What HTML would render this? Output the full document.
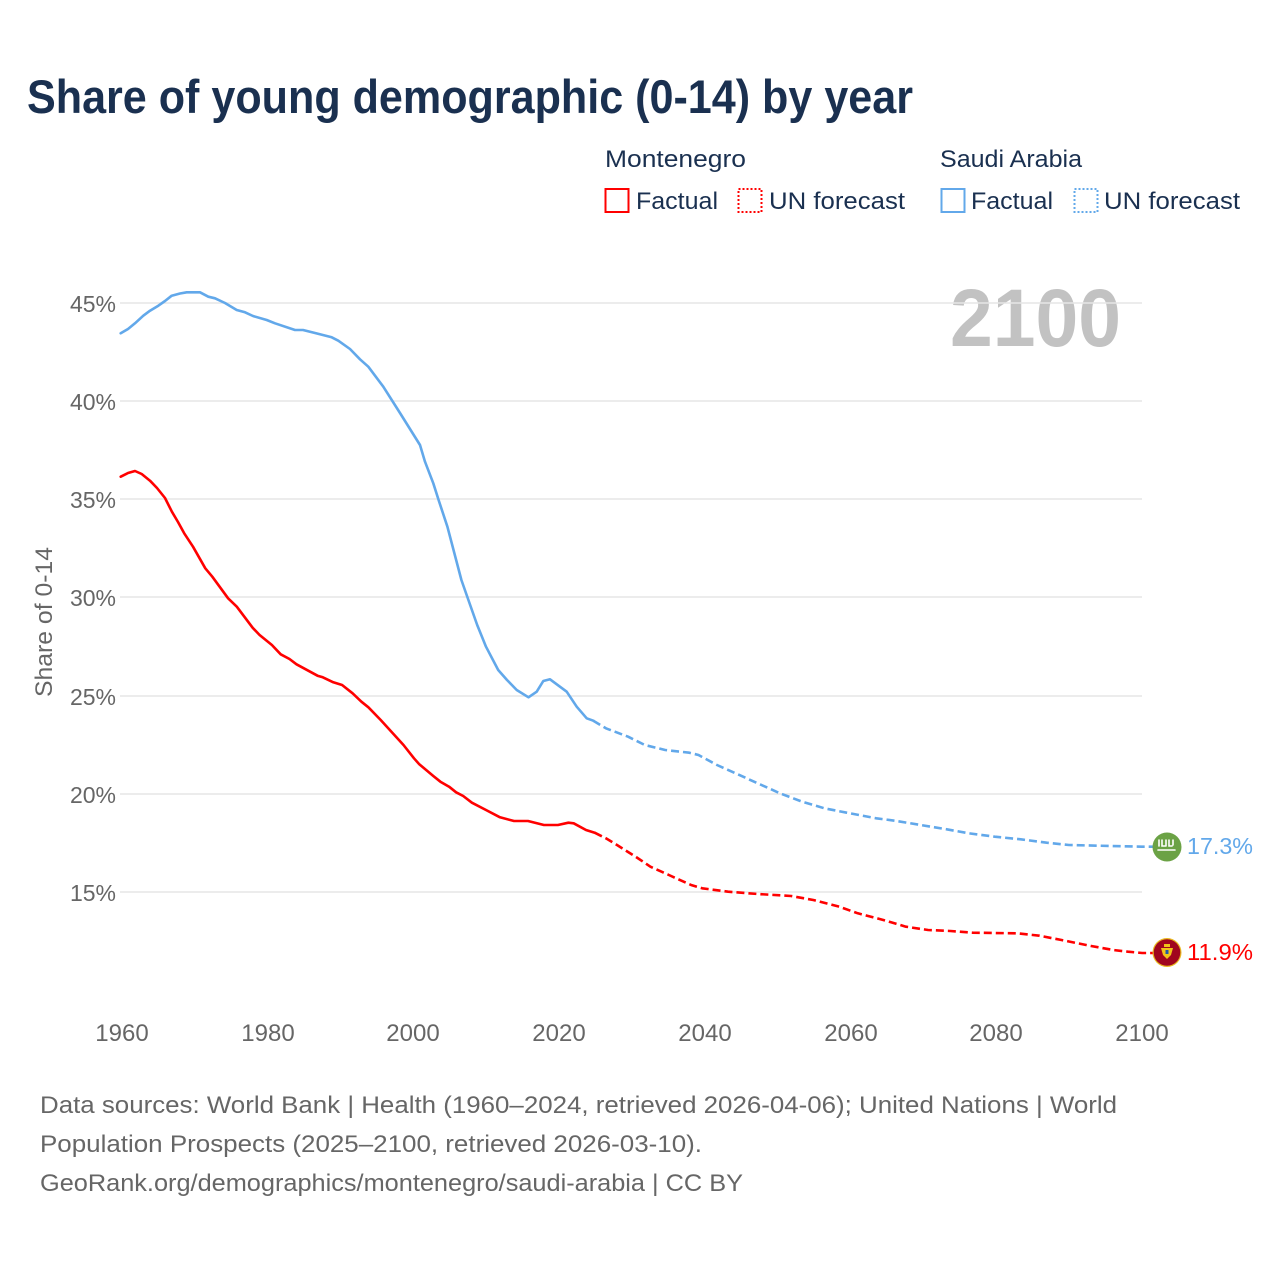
<!DOCTYPE html>
<html>
<head>
<meta charset="utf-8">
<style>
  html, body { margin: 0; padding: 0; background: #ffffff; }
  svg { display: block; }
  text { font-family: "Liberation Sans", "DejaVu Sans", sans-serif; }
</style>
</head>
<body>
<svg width="1280" height="1280" viewBox="0 0 1280 1280" xmlns="http://www.w3.org/2000/svg">
  <rect x="0" y="0" width="1280" height="1280" fill="#ffffff"/>

  <!-- Title -->
  <text x="27" y="113" font-size="47" font-weight="bold" fill="#1a3050" textLength="886" lengthAdjust="spacingAndGlyphs">Share of young demographic (0-14) by year</text>

  <!-- Legend -->
  <text x="605" y="167" font-size="24" fill="#1a3050" textLength="141" lengthAdjust="spacingAndGlyphs">Montenegro</text>
  <text x="940" y="167" font-size="24" fill="#1a3050" textLength="142" lengthAdjust="spacingAndGlyphs">Saudi Arabia</text>

  <rect x="605.5" y="189" width="23" height="23" fill="none" stroke="#ff0000" stroke-width="2"/>
  <text x="636" y="209" font-size="24" fill="#1a3050" textLength="82" lengthAdjust="spacingAndGlyphs">Factual</text>
  <rect x="738.5" y="189" width="23" height="23" fill="none" stroke="#ff0000" stroke-width="2" stroke-dasharray="2,2"/>
  <text x="769" y="209" font-size="24" fill="#1a3050" textLength="136" lengthAdjust="spacingAndGlyphs">UN forecast</text>

  <rect x="941.5" y="189" width="23" height="23" fill="none" stroke="#62a8ea" stroke-width="2"/>
  <text x="971" y="209" font-size="24" fill="#1a3050" textLength="82" lengthAdjust="spacingAndGlyphs">Factual</text>
  <rect x="1074.5" y="189" width="23" height="23" fill="none" stroke="#62a8ea" stroke-width="2" stroke-dasharray="2,2"/>
  <text x="1104" y="209" font-size="24" fill="#1a3050" textLength="136" lengthAdjust="spacingAndGlyphs">UN forecast</text>

  <!-- Big year -->
  <text x="950" y="346" font-size="82" font-weight="bold" fill="#c2c2c2" textLength="171" lengthAdjust="spacingAndGlyphs">2100</text>

  <!-- Gridlines -->
  <g stroke="#e6e6e6" stroke-width="1.5">
    <line x1="120" y1="303" x2="1142" y2="303"/>
    <line x1="120" y1="401" x2="1142" y2="401"/>
    <line x1="120" y1="499" x2="1142" y2="499"/>
    <line x1="120" y1="597" x2="1142" y2="597"/>
    <line x1="120" y1="696" x2="1142" y2="696"/>
    <line x1="120" y1="794" x2="1142" y2="794"/>
    <line x1="120" y1="892" x2="1142" y2="892"/>
  </g>

  <!-- Y tick labels -->
  <g font-size="23" fill="#666666" text-anchor="end">
    <text x="116" y="312">45%</text>
    <text x="116" y="410">40%</text>
    <text x="116" y="508">35%</text>
    <text x="116" y="606">30%</text>
    <text x="116" y="705">25%</text>
    <text x="116" y="803">20%</text>
    <text x="116" y="901">15%</text>
  </g>

  <!-- Y axis title -->
  <text transform="translate(52,622) rotate(-90)" text-anchor="middle" font-size="24" fill="#666666" textLength="150" lengthAdjust="spacingAndGlyphs">Share of 0-14</text>

  <!-- X tick labels -->
  <g font-size="24" fill="#666666" text-anchor="middle">
    <text x="122" y="1041">1960</text>
    <text x="268" y="1041">1980</text>
    <text x="413" y="1041">2000</text>
    <text x="559" y="1041">2020</text>
    <text x="705" y="1041">2040</text>
    <text x="851" y="1041">2060</text>
    <text x="996" y="1041">2080</text>
    <text x="1142" y="1041">2100</text>
  </g>

  <!-- Saudi Arabia factual -->
  <polyline fill="none" stroke="#62a8ea" stroke-width="2.6" stroke-linejoin="round" stroke-linecap="round"
    points="120.7,333.3 128,329 135,323.3 143.3,315.7 150,310.7 158.3,305.7 165,301 171.7,295.7 180,293.5 186.7,292.3 200,292.3 208.3,296.7 215,298.3 225,303 236.7,310 245,312.3 253,316 266.7,320 275,323.3 295,330 303,330 317,333.5 331.7,337.3 338.3,340.7 350,349 360,359.3 368.3,366.7 383.3,386.7 400,413 420,445 425,461.7 433.3,483.3 438.6,500 447.4,526.7 461.4,580 468.4,600 477.2,625 486,646.7 498.2,670 507,680 516.7,690 528.5,697.3 536.7,691.7 543.3,681 550,679.3 566.7,691.7 576.7,706.7 586.7,718.3 593.3,720.7"/>
  <!-- Saudi Arabia forecast -->
  <polyline fill="none" stroke="#62a8ea" stroke-width="2.6" stroke-linejoin="round" stroke-dasharray="8,4"
    points="593.3,720.7 605.9,728.3 628.1,736.7 644.8,745 665.2,750 689.3,752.7 698.5,755 717,765 735.6,773.3 761.5,785 780,793.3 802.2,801.7 824.4,808.3 846.7,812.7 876.3,818.3 894.8,820.7 920.7,825 946.7,829.3 968.9,833.3 994.8,836.7 1020.7,839.3 1046.7,842.7 1068.9,845 1098.5,845.7 1142.2,846.7 1153,846.7"/>

  <!-- Montenegro factual -->
  <polyline fill="none" stroke="#ff0000" stroke-width="2.6" stroke-linejoin="round" stroke-linecap="round"
    points="120.7,476.7 128,473 135,471 141.7,474 150,480.7 157,488 165,498 171.9,511.7 178,522 184.2,533.3 193,546.7 205.3,568.3 212.3,576.7 228.1,598.3 236.8,606.7 252.6,627.7 259.6,635 271.9,645 280.7,654.3 289.5,659 296.5,664.3 317.5,675.7 322.8,677.3 333.3,682.3 342.1,685 352.6,693.3 361.4,701.7 368.4,707.3 380.7,720 403.5,745 414,758.3 419.3,764.3 433.3,776 440.4,781.7 449.1,786.7 456.1,792.3 463.2,796 471.9,802.7 486,810 500,817.3 514,821 528,821 543.9,825 557.9,825 568.4,822.7 573.7,823.3 586,830 594.7,832.7"/>
  <!-- Montenegro forecast -->
  <polyline fill="none" stroke="#ff0000" stroke-width="2.6" stroke-linejoin="round" stroke-dasharray="8,4"
    points="594.7,832.7 605.9,838.3 617,845 635.6,856.7 650.4,866.7 668.9,875 691.1,885 702.2,888.3 728.1,891.7 757.8,894 791.1,896 813.3,900 839.3,906.7 857.8,913.3 883.3,920 905.9,926.7 928.1,930 950.4,931 972.6,932.7 1017,933.3 1039.3,935.7 1061.5,940 1091.1,946 1113.3,950 1128.1,951.7 1142.2,953 1153,953"/>

  <!-- Saudi flag marker -->
  <circle cx="1167" cy="847" r="14.5" fill="#6ba245"/>
  <g stroke="#ffffff" stroke-width="1.6" fill="none" stroke-linecap="round">
    <path d="M1159,840 L1159,846 M1162,840 L1162,846 L1165,846 M1166,840 L1166,846 M1169,840 L1169,846 L1172,846 M1173,840 L1173,845"/>
    <path d="M1158,850 L1175,850"/>
  </g>

  <!-- Montenegro flag marker -->
  <circle cx="1167" cy="952.5" r="14.5" fill="#e8b820"/>
  <circle cx="1167" cy="952.5" r="13.3" fill="#a0061e"/>
  <g fill="#f0c419">
    <rect x="1164" y="944" width="6" height="3"/>
    <path d="M1161,948 L1173,948 L1171,955 L1167,959 L1163,955 Z"/>
  </g>
  <rect x="1165.5" y="950" width="3" height="4" fill="#1e5aa8"/>

  <!-- End labels -->
  <text x="1187" y="854" font-size="23" fill="#62a8ea" textLength="66" lengthAdjust="spacingAndGlyphs">17.3%</text>
  <text x="1187" y="960" font-size="23" fill="#ff0000" textLength="66" lengthAdjust="spacingAndGlyphs">11.9%</text>

  <!-- Footer -->
  <g font-size="24" fill="#666666">
    <text x="40" y="1113" textLength="1077" lengthAdjust="spacingAndGlyphs">Data sources: World Bank | Health (1960–2024, retrieved 2026-04-06); United Nations | World</text>
    <text x="40" y="1152" textLength="662" lengthAdjust="spacingAndGlyphs">Population Prospects (2025–2100, retrieved 2026-03-10).</text>
    <text x="40" y="1191" textLength="703" lengthAdjust="spacingAndGlyphs">GeoRank.org/demographics/montenegro/saudi-arabia | CC BY</text>
  </g>
</svg>
</body>
</html>
